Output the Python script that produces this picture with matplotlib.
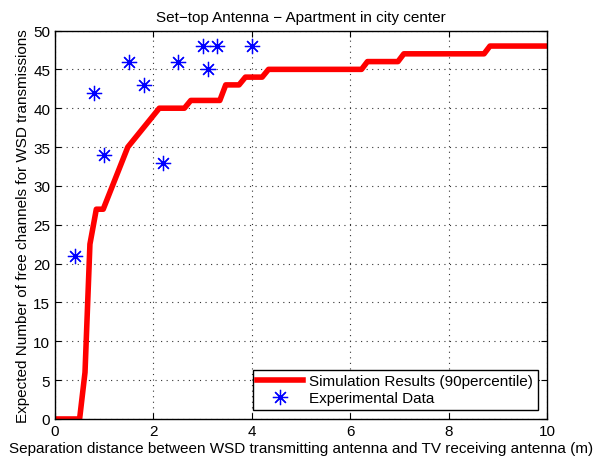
import matplotlib
matplotlib.use('Agg')
import matplotlib.pyplot as plt

plt.rcParams['font.family'] = ['Liberation Sans', 'DejaVu Sans']

# --- data ---
sim_x = [0.0, 0.5, 0.61, 0.71, 0.84, 0.98, 1.48, 2.12, 2.63, 2.76, 3.35, 3.47,
         3.74, 3.87, 4.21, 4.34, 6.23, 6.35, 6.97, 7.09, 8.72, 8.84, 10.0]
sim_y = [0, 0, 6, 22.5, 27, 27, 35, 40, 40, 41, 41, 43,
         43, 44, 44, 45, 45, 46, 46, 47, 47, 48, 48]

exp_x = [0.4, 0.8, 1.0, 1.5, 1.8, 2.2, 2.5, 3.0, 3.1, 3.3, 4.0]
exp_y = [21, 42, 34, 46, 43, 33, 46, 48, 45, 48, 48]

# --- plot ---
fig = plt.figure(figsize=(6.03, 4.60), dpi=100)
ax = fig.add_axes([0.0912, 0.087, 0.816, 0.8445])

ax.plot(sim_x, sim_y, color='red', lw=4, label='Simulation Results (90percentile)')
# matlab-style asterisk: 4 crossed strokes
ax.plot(exp_x, exp_y, ls='none', marker=(8, 2, 0), color='blue', ms=11,
        markeredgewidth=0.9, label='Experimental Data')

ax.set_xlim(0, 10)
ax.set_ylim(0, 50)
ax.set_xticks(range(0, 11, 2))
ax.set_yticks(range(0, 51, 5))
ax.grid(True, ls=(0, (1, 4)), color='#333333', lw=0.8)
ax.tick_params(direction='in', top=True, right=True, labelsize=11, length=4)
for s in ax.spines.values():
    s.set_linewidth(1.0)

ax.set_title('Set\u2212top Antenna \u2212 Apartment in city center', fontsize=11, pad=7)
ax.set_xlabel('Separation distance between WSD transmitting antenna and TV receiving antenna (m)',
              fontsize=11, labelpad=2)
ax.set_ylabel('Expected Number of free channels for WSD transmissions', fontsize=11, labelpad=2)

leg = ax.legend(loc='lower right', fontsize=11, fancybox=False, edgecolor='black',
                framealpha=1, borderaxespad=0.6, handlelength=3.0, borderpad=0.3,
                labelspacing=0.2, handletextpad=0.4)
leg.get_frame().set_linewidth(1.0)

fig.savefig('out.png', dpi=100)
